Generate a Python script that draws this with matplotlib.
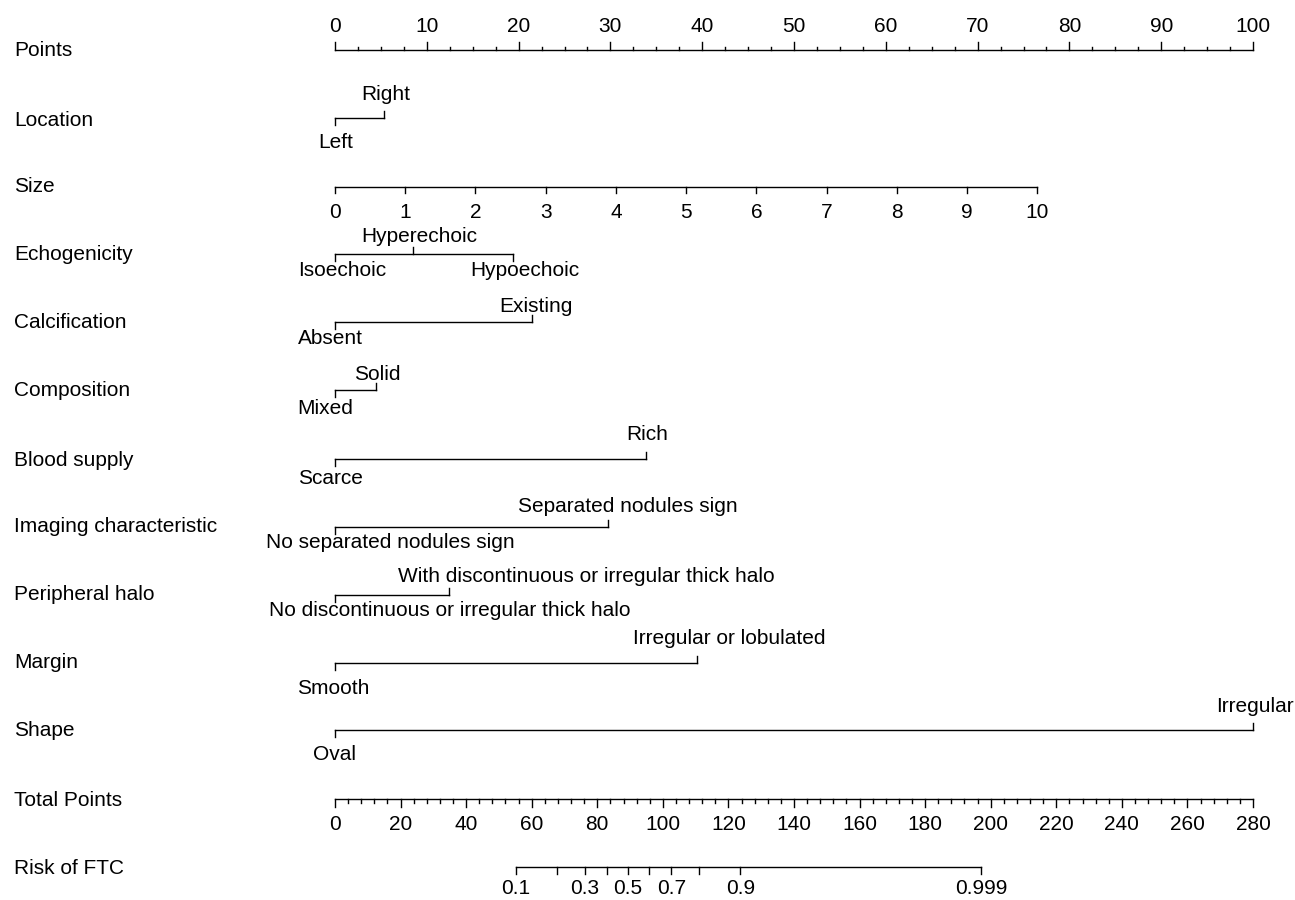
import numpy as np
import matplotlib
matplotlib.use("Agg")
import matplotlib.pyplot as plt
from matplotlib.transforms import blended_transform_factory

plt.rcParams['font.family'] = ['Liberation Sans', 'DejaVu Sans']

# ---------------- data ----------------
row_names = ["Points", "Location", "Size", "Echogenicity", "Calcification", "Composition",
             "Blood supply", "Imaging characteristic", "Peripheral halo", "Margin", "Shape",
             "Total Points", "Risk of FTC"]

location_levels = ["Left", "Right"]
location_points = [0, 5.3]
echo_levels = ["Isoechoic", "Hyperechoic", "Hypoechoic"]
echo_points = [0, 8.5, 19.4]
calc_levels = ["Absent", "Existing"]
calc_points = [0, 21.5]
comp_levels = ["Mixed", "Solid"]
comp_points = [0, 4.5]
blood_levels = ["Scarce", "Rich"]
blood_points = [0, 33.9]
imaging_levels = ["No separated nodules sign", "Separated nodules sign"]
imaging_points = [0, 29.7]
halo_levels = ["No discontinuous or irregular thick halo", "With discontinuous or irregular thick halo"]
halo_points = [0, 12.4]
margin_levels = ["Smooth", "Irregular or lobulated"]
margin_points = [0, 39.4]
shape_levels = ["Oval", "Irregular"]
shape_points = [0, 100]

size_values = list(range(0, 11))
size_points_at_max = 76.5  # points for size = 10

total_max = 280
total_major = list(range(0, 281, 20))
total_minor_step = 4

# logit(p) = intercept + slope * total points
risk_intercept = -5.73
risk_slope = 0.0641
risk_ticks = [0.1, 0.2, 0.3, 0.4, 0.5, 0.6, 0.7, 0.8, 0.9, 0.999]
risk_labels = ["0.1", "", "0.3", "", "0.5", "", "0.7", "", "0.9", "0.999"]

# ---------------- layout ----------------
W, H = 1295, 900
X0, X100 = 335, 1253
ppp = (X100 - X0) / 100.0
FS = 15

label_y = [50, 120, 186, 254, 322, 390, 461, 526, 594, 662, 730, 800, 869]
line_y = [50, 118, 187, 254, 322, 390, 459, 527, 595, 663, 730, 799, 867]
# row index, levels, points, side (+1 above / -1 below), above offset, below offset, label x shift (px)
cat_rows = [
    (1, location_levels, location_points, [-1, 1], 23, 25, [1, 2]),
    (3, echo_levels, echo_points, [-1, 1, -1], 18, 17, [7, 6, 12]),
    (4, calc_levels, calc_points, [-1, 1], 16, 17, [-5, 4]),
    (5, comp_levels, comp_points, [-1, 1], 16, 19, [-10, 1]),
    (6, blood_levels, blood_points, [-1, 1], 24, 19, [-5, 1]),
    (7, imaging_levels, imaging_points, [-1, 1], 21, 15, [55, 20]),
    (8, halo_levels, halo_points, [-1, 1], 18, 16, [115, 137]),
    (9, margin_levels, margin_points, [-1, 1], 25, 25, [-2, 33]),
    (10, shape_levels, shape_points, [-1, 1], 23, 24, [-1, 2]),
]

fig = plt.figure(figsize=(W / 100, H / 100), dpi=100)
ax = fig.add_axes([0, 0, 1, 1])
ax.set_xlim(-X0 / ppp, (W - X0) / ppp)
ax.set_ylim(H, 0)
ax.axis("off")

lw = 1.0
col = "black"
tick_px = 7

tr = blended_transform_factory(ax.transAxes, ax.transData)
for name, y in zip(row_names, label_y):
    ax.text(14 / W, y, name, transform=tr, ha="left", va="center", fontsize=FS)

# Points axis
y = line_y[0]
ax.plot([0, 100], [y, y], color=col, lw=lw)
for v in np.arange(0, 100.01, 2.5):
    major = abs(v % 10) < 1e-9
    ax.plot([v, v], [y, y - (8 if major else 3)], color=col, lw=lw)
    if major:
        ax.text(v, 26, f"{int(v)}", ha="center", va="center", fontsize=FS)

# Size axis
y = line_y[2]
size_pos = [s / size_values[-1] * size_points_at_max for s in size_values]
ax.plot([size_pos[0], size_pos[-1]], [y, y], color=col, lw=lw)
for s, p in zip(size_values, size_pos):
    ax.plot([p, p], [y, y + 6], color=col, lw=lw)
    ax.text(p, 212, str(s), ha="center", va="center", fontsize=FS)

# categorical rows
for idx, levels, pts, sides, up_off, dn_off, shifts in cat_rows:
    y = line_y[idx]
    ax.plot([min(pts), max(pts)], [y, y], color=col, lw=lw)
    for lev, p, sd, sh in zip(levels, pts, sides, shifts):
        if sd > 0:
            ax.plot([p, p], [y, y - tick_px], color=col, lw=lw)
            ax.text(p + sh / ppp, y - up_off, lev, ha="center", va="center", fontsize=FS)
        else:
            ax.plot([p, p], [y, y + tick_px], color=col, lw=lw)
            ax.text(p + sh / ppp, y + dn_off, lev, ha="center", va="center", fontsize=FS)

# Total points axis
y = line_y[11]
scale_t = 100.0 / total_max
ax.plot([0, 100], [y, y], color=col, lw=lw)
for v in range(0, total_max + 1, total_minor_step):
    major = v in total_major
    ax.plot([v * scale_t] * 2, [y, y + (8 if major else 4)], color=col, lw=lw)
for v in total_major:
    ax.text(v * scale_t, 824, str(v), ha="center", va="center", fontsize=FS)

# Risk axis
y = line_y[12]
risk_tot = [(np.log(p / (1 - p)) - risk_intercept) / risk_slope for p in risk_ticks]
risk_pos = [t * scale_t for t in risk_tot]
ax.plot([risk_pos[0], risk_pos[-1]], [y, y], color=col, lw=lw)
for p, lab in zip(risk_pos, risk_labels):
    ax.plot([p, p], [y, y + 7], color=col, lw=lw)
    if lab:
        ax.text(p, 888, lab, ha="center", va="center", fontsize=FS)

fig.savefig("out.png", dpi=100)
